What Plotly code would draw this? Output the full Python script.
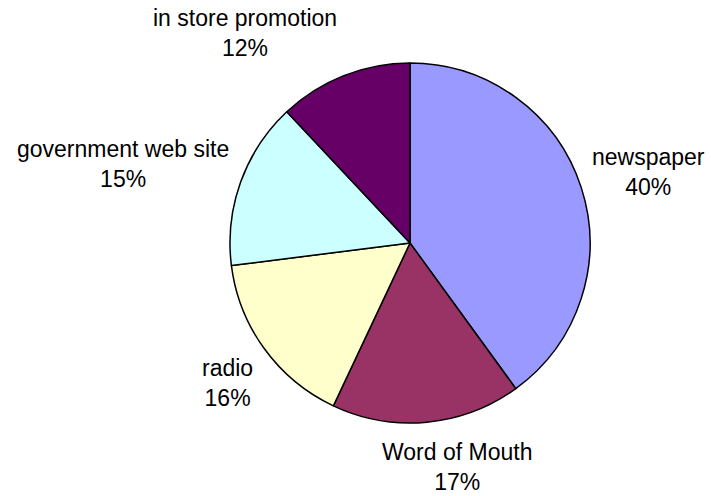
import math
import plotly.graph_objects as go

# Sources of information (share of respondents, %)
categories = ["newspaper", "Word of Mouth", "radio", "government web site", "in store promotion"]
shares = [40, 17, 16, 15, 12]
colors = ["#9999FF", "#993366", "#FFFFCC", "#CCFFFF", "#660066"]

W, H = 711, 496
CX, CY, R = 410, 243, 180          # pie centre and radius in pixels
FONT = "Liberation Sans, Arial, sans-serif"
FS = 23

# Arial advance widths (per 1000 em) for estimating label box sizes
ADV = {' ': 278, '%': 889, 'a': 556, 'b': 556, 'd': 556, 'e': 556, 'f': 278, 'g': 556,
       'h': 556, 'i': 222, 'm': 833, 'n': 556, 'o': 556, 'p': 556, 'r': 333, 's': 500,
       't': 278, 'u': 556, 'v': 500, 'w': 722, 'M': 833, 'W': 944}


def text_width(lines):
    return max(sum(ADV.get(c, 556) for c in ln) for ln in lines) * FS / 1000


def clip1(v):
    return max(-1.0, min(1.0, v))


fig = go.Figure(go.Pie(
    labels=categories,
    values=shares,
    sort=False,
    direction="clockwise",
    rotation=0,
    marker=dict(colors=colors, line=dict(color="black", width=1.5)),
    textinfo="none",
    hoverinfo="label+percent",
    showlegend=False,
    domain=dict(x=[(CX - R) / W, (CX + R) / W], y=[1 - (CY + R) / H, 1 - (CY - R) / H]),
))

# Labels placed outside each slice, along the slice's mid-angle
total = sum(shares)
start = 0.0
annotations = []
for name, v in zip(categories, shares):
    span = 360.0 * v / total
    mid = math.radians(start + span / 2)
    start += span
    s, c = math.sin(mid), math.cos(mid)
    rr = R + 11 + 7 * c * c
    px, py = CX + rr * s, CY - rr * c
    lines = [name, f"{round(100 * v / total)}%"]
    w = text_width(lines)
    h = FS * 2.3
    px += (w / 2) * clip1(4.0 * s)
    py += (h / 2) * clip1(-(1.25 * c + 2.5 * c ** 3))
    annotations.append(dict(
        x=px / W, y=1 - py / H, xref="paper", yref="paper",
        xanchor="center", yanchor="middle", showarrow=False,
        text="<br>".join(lines), align="center",
        font=dict(family=FONT, size=FS, color="black"),
    ))

fig.update_layout(
    width=W, height=H,
    margin=dict(l=0, r=0, t=0, b=0),
    paper_bgcolor="white",
    plot_bgcolor="white",
    annotations=annotations,
)

fig.write_html("out.html")
